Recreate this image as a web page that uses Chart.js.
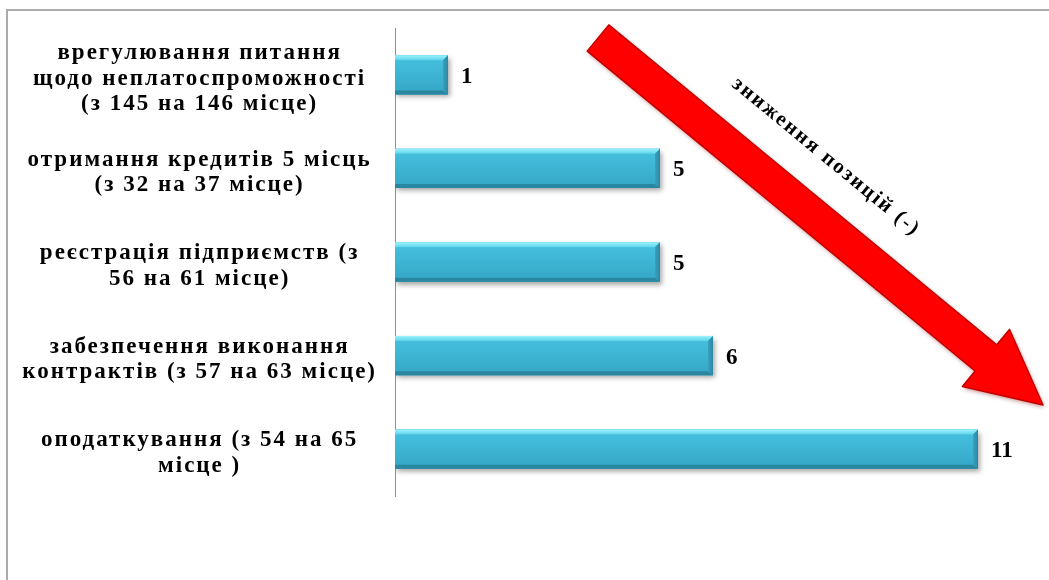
<!DOCTYPE html>
<html>
<head>
<meta charset="utf-8">
<script src="https://cdn.jsdelivr.net/npm/chart.js@4.4.1/dist/chart.umd.min.js"></script>
<style>
  html, body { margin: 0; padding: 0; background: #fff; }
  canvas { display: block; }
</style>
</head>
<body>
<canvas id="chart" width="1049" height="580"></canvas>
<script>
// categories (multi-line labels) and the position drops
const categories = [
    ["врегулювання питання", "щодо неплатоспроможності", "(з 145 на 146 місце)"],
    ["отримання кредитів 5 місць", "(з 32 на 37 місце)"],
    ["реєстрація підприємств (з", "56 на 61 місце)"],
    ["забезпечення виконання", "контрактів (з 57 на 63 місце)"],
    ["оподаткування (з 54 на 65", "місце )"],
];
const drops = [1, 5, 5, 6, 11];
const arrowLabel = "зниження позицій (-)";

const serif = "'Liberation Serif', 'Times New Roman', serif";
const spacing = "2px";

// flat bar drawn by Chart.js, bevel + labels + arrow drawn on top
const decor = {
    id: "decor",
    beforeLayout(chart) {
        chart.ctx.letterSpacing = spacing;
    },
    beforeDraw(chart) {
        const ctx = chart.ctx;
        ctx.letterSpacing = spacing;
        ctx.save();
        ctx.strokeStyle = "#ababab";
        ctx.lineWidth = 2;
        ctx.beginPath();
        ctx.moveTo(7, chart.height);
        ctx.lineTo(7, 10);
        ctx.lineTo(chart.width, 10);
        ctx.stroke();
        ctx.restore();
    },
    beforeDatasetsDraw(chart) {
        const ctx = chart.ctx;
        ctx.save();
        ctx.shadowColor = "rgba(0,0,0,0.35)";
        ctx.shadowBlur = 5;
        ctx.shadowOffsetX = 2;
        ctx.shadowOffsetY = 3;
    },
    afterDatasetsDraw(chart) {
        const ctx = chart.ctx;
        ctx.restore();
        const meta = chart.getDatasetMeta(0);
        meta.data.forEach((bar, i) => {
            const p = bar.getProps(["x", "y", "base", "height"], true);
            const l = p.base, r = p.x, t = p.y - p.height / 2, b = p.y + p.height / 2, e = 5;

            let g = ctx.createLinearGradient(0, t, 0, b);
            g.addColorStop(0, "#46c2e0");
            g.addColorStop(1, "#35a6c6");
            ctx.fillStyle = g;
            ctx.fillRect(l, t, r - l, b - t);

            // top face
            g = ctx.createLinearGradient(0, t, 0, t + e);
            g.addColorStop(0, "#9ef3fd");
            g.addColorStop(1, "#5ed3ea");
            ctx.fillStyle = g;
            ctx.beginPath();
            ctx.moveTo(l, t); ctx.lineTo(r, t); ctx.lineTo(r - e, t + e); ctx.lineTo(l, t + e);
            ctx.closePath(); ctx.fill();

            // bottom face
            ctx.fillStyle = "#2b86a0";
            ctx.beginPath();
            ctx.moveTo(l, b); ctx.lineTo(r, b); ctx.lineTo(r - e, b - e + 1); ctx.lineTo(l, b - e + 1);
            ctx.closePath(); ctx.fill();

            // right face
            g = ctx.createLinearGradient(r - e, 0, r, 0);
            g.addColorStop(0, "#3aa1bd");
            g.addColorStop(1, "#2c88a2");
            ctx.fillStyle = g;
            ctx.beginPath();
            ctx.moveTo(r, t); ctx.lineTo(r, b); ctx.lineTo(r - e, b - e + 1); ctx.lineTo(r - e, t + e);
            ctx.closePath(); ctx.fill();

            // value label
            ctx.save();
            ctx.letterSpacing = "0px";
            ctx.fillStyle = "#000";
            ctx.font = "bold 23px " + serif;
            ctx.textAlign = "left";
            ctx.textBaseline = "middle";
            ctx.fillText(String(drops[i]), r + 13, p.y + 2);
            ctx.restore();
        });
    },
    afterDraw(chart) {
        const ctx = chart.ctx;
        // red arrow, tail at top-left, tip near the right edge
        const tx = 598, ty = 38, px = 1043, py = 405;
        const ang = Math.atan2(py - ty, px - tx);
        const len = Math.hypot(px - tx, py - ty);
        const hw = 17, hh = 37, hl = 74;
        ctx.save();
        ctx.translate(tx, ty);
        ctx.rotate(ang);
        ctx.shadowColor = "rgba(120,0,0,0.45)";
        ctx.shadowBlur = 4;
        ctx.shadowOffsetX = 1;
        ctx.shadowOffsetY = 2;
        ctx.fillStyle = "#ff0000";
        ctx.strokeStyle = "#c40000";
        ctx.lineWidth = 1.5;
        ctx.lineJoin = "round";
        ctx.beginPath();
        ctx.moveTo(0, -hw);
        ctx.lineTo(len - hl, -hw);
        ctx.lineTo(len - hl, -hh);
        ctx.lineTo(len, 0);
        ctx.lineTo(len - hl, hh);
        ctx.lineTo(len - hl, hw);
        ctx.lineTo(0, hw);
        ctx.closePath();
        ctx.fill();
        ctx.shadowColor = "transparent";
        ctx.stroke();
        ctx.restore();

        ctx.save();
        ctx.translate(826, 157);
        ctx.rotate(ang);
        ctx.letterSpacing = spacing;
        ctx.fillStyle = "#000";
        ctx.font = "bold 21px " + serif;
        ctx.textAlign = "center";
        ctx.textBaseline = "middle";
        ctx.fillText(arrowLabel, 0, 0);
        ctx.restore();
    },
};

new Chart(document.getElementById("chart"), {
    type: "bar",
    data: {
        labels: categories,
        datasets: [{
            data: drops,
            backgroundColor: "#3fb4d3",
            borderWidth: 0,
            barPercentage: 0.42,
            categoryPercentage: 1,
        }],
    },
    options: {
        indexAxis: "y",
        responsive: false,
        animation: false,
        devicePixelRatio: 1,
        layout: { padding: { top: 28, bottom: 84, right: 18, left: 0 } },
        plugins: { legend: { display: false }, tooltip: { enabled: false } },
        scales: {
            x: { display: false, min: 0, max: 12 },
            y: {
                grid: { display: false, drawTicks: false },
                border: { display: true, color: "#8f8f8f", width: 1 },
                ticks: {
                    color: "#000",
                    autoSkip: false,
                    crossAlign: "center",
                    padding: 18,
                    labelOffset: 4,
                    font: { family: serif, size: 23, weight: "bold", lineHeight: 1.1 },
                },
                afterFit(scale) {
                    scale.width = 395;
                    scale.paddingTop = 0;
                    scale.paddingBottom = 0;
                },
            },
        },
    },
    plugins: [decor],
});
</script>
</body>
</html>
